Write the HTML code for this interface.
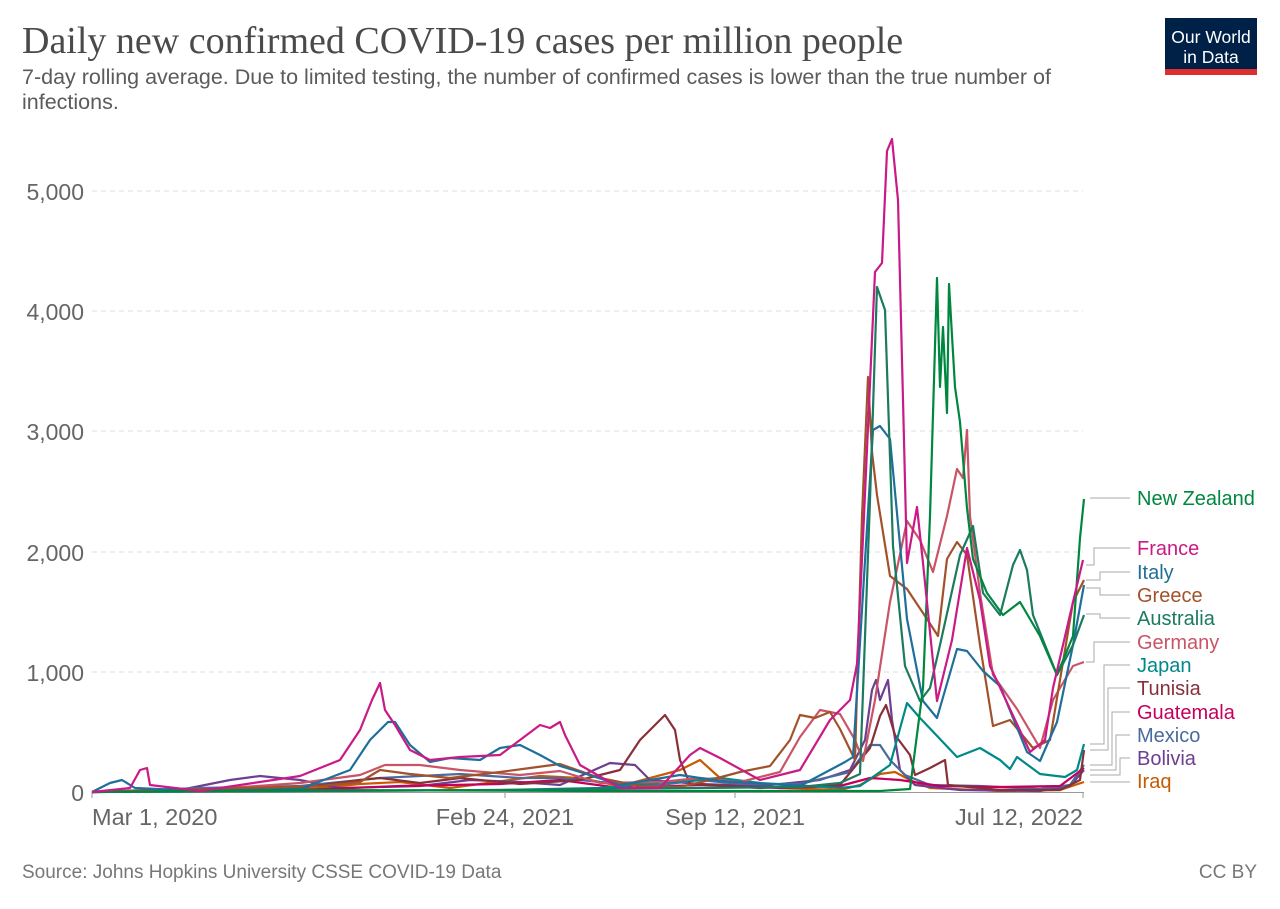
<!DOCTYPE html>
<html><head><meta charset="utf-8"><style>
body{margin:0;background:#fff;width:1280px;height:904px;overflow:hidden;font-family:"Liberation Sans",sans-serif}
</style></head><body>
<svg width="1280" height="904" viewBox="0 0 1280 904" xmlns="http://www.w3.org/2000/svg">
<text x="22" y="53" font-family="Liberation Serif,serif" font-size="38" fill="#4a4a4a">Daily new confirmed COVID-19 cases per million people</text>
<text x="22" y="84" font-size="21.5" fill="#5b5b5b">7-day rolling average. Due to limited testing, the number of confirmed cases is lower than the true number of</text>
<text x="22" y="109" font-size="21.5" fill="#5b5b5b">infections.</text>
<rect x="1165" y="18" width="92" height="57" fill="#002147"/>
<rect x="1165" y="69" width="92" height="6" fill="#dc2f2f"/>
<text x="1211" y="43" font-size="17.5" fill="#fff" text-anchor="middle">Our World</text>
<text x="1211" y="63" font-size="17.5" fill="#fff" text-anchor="middle">in Data</text>
<g stroke="#ddd" stroke-dasharray="5,4" stroke-width="1">
<line x1="92" x2="1083" y1="191" y2="191"/><line x1="92" x2="1083" y1="311" y2="311"/><line x1="92" x2="1083" y1="431" y2="431"/><line x1="92" x2="1083" y1="552" y2="552"/><line x1="92" x2="1083" y1="672" y2="672"/>
</g>
<line x1="92" x2="1084" y1="792.5" y2="792.5" stroke="#999"/>
<g stroke="#999"><line x1="92" x2="92" y1="792" y2="798"/><line x1="505" x2="505" y1="792" y2="798"/><line x1="735" x2="735" y1="792" y2="798"/><line x1="1083" x2="1083" y1="792" y2="798"/></g>
<g font-size="23" fill="#666" text-anchor="end">
<text x="84" y="200">5,000</text><text x="84" y="320">4,000</text><text x="84" y="440">3,000</text><text x="84" y="561">2,000</text><text x="84" y="681">1,000</text><text x="84" y="801">0</text>
</g>
<g font-size="23.5" fill="#666">
<text x="92" y="825">Mar 1, 2020</text><text x="505" y="825" text-anchor="middle">Feb 24, 2021</text><text x="735" y="825" text-anchor="middle">Sep 12, 2021</text><text x="1083" y="825" text-anchor="end">Jul 12, 2022</text>
</g>
<g fill="none" stroke-width="2.2" stroke-linejoin="round">
<polyline stroke="#c85a00" points="92,792 300,790 360,784 400,782 450,788 540,776 580,778 620,786 680,770 700,760 720,778 780,788 840,790 860,785 880,774 895,772 910,780 930,788 1000,791 1060,790 1075,785 1084,782"/>
<polyline stroke="#6d3e91" points="92,792 180,790 230,780 260,776 300,780 340,788 420,786 470,780 520,782 560,785 610,763 635,765 650,780 700,784 760,786 820,780 850,770 865,740 872,690 876,680 880,700 884,690 888,680 892,720 900,770 915,785 960,790 1040,791 1070,786 1084,770"/>
<polyline stroke="#4c6a9c" points="92,792 200,788 300,786 380,778 420,776 460,774 520,778 560,778 600,782 660,785 700,780 740,784 800,784 850,772 870,745 880,745 890,760 905,775 930,785 980,786 1040,789 1070,785 1084,765"/>
<polyline stroke="#c4005e" points="92,792 300,790 400,786 500,784 560,780 620,788 700,785 780,788 840,786 870,778 900,780 940,786 1000,787 1060,786 1084,768"/>
<polyline stroke="#883039" points="92,792 300,788 360,780 380,778 420,783 460,778 520,784 580,780 620,770 640,740 665,715 675,730 680,760 690,784 760,788 840,785 870,748 880,716 886,705 895,735 910,755 915,775 930,768 945,760 948,785 1000,790 1060,790 1080,780 1084,750"/>
<polyline stroke="#00898a" points="92,792 300,791 500,790 600,788 680,781 720,778 760,783 840,788 860,786 890,765 907,703 920,718 940,739 957,757 980,748 1000,760 1010,769 1017,757 1040,774 1065,777 1077,770 1084,744"/>
<polyline stroke="#c95466" points="92,792 200,790 300,783 360,775 385,765 420,765 460,770 520,775 560,771 600,783 660,782 700,778 740,782 780,772 800,737 820,710 840,714 855,740 863,761 875,700 890,602 907,521 920,540 933,572 947,516 957,469 963,478 967,430 970,516 980,593 993,675 1017,709 1040,748 1053,700 1060,688 1073,666 1084,662"/>
<polyline stroke="#a2522b" points="92,792 250,788 320,786 360,782 380,770 410,774 450,778 500,772 530,768 560,764 600,778 640,786 680,787 710,780 740,772 770,766 790,740 800,715 815,718 830,712 840,729 855,760 862,516 868,377 872,452 877,495 890,576 907,589 927,619 938,636 947,559 957,542 967,555 980,645 993,726 1010,720 1033,748 1050,740 1073,602 1084,580"/>
<polyline stroke="#1f6f9a" points="92,792 110,783 122,780 135,788 200,791 300,789 350,770 370,740 388,722 395,722 410,745 430,762 450,758 480,760 500,748 520,745 540,755 560,766 580,772 620,785 680,775 720,781 800,786 830,770 845,762 853,757 873,430 880,426 890,439 907,619 923,701 937,718 957,649 967,651 983,671 1000,686 1027,752 1040,761 1057,722 1073,645 1084,585"/>
<polyline stroke="#1b7a60" points="92,792 300,791 500,790 700,788 800,787 840,783 860,774 870,500 877,287 885,310 893,546 905,666 920,701 930,688 940,645 960,555 973,526 983,593 1000,615 1013,565 1020,550 1027,570 1033,615 1057,675 1073,645 1084,615"/>
<polyline stroke="#00873f" points="92,792 300,790 600,791 840,791 880,791 910,789 923,688 930,516 937,278 940,387 943,327 947,413 949,284 955,387 960,422 967,508 973,559 987,593 1003,615 1020,602 1040,636 1057,675 1073,636 1080,538 1084,499"/>
<polyline stroke="#c91a86" points="92,792 130,788 140,770 147,768 150,785 200,791 300,776 340,760 360,730 372,700 380,683 385,710 395,725 410,750 430,760 460,757 500,755 520,740 540,725 550,728 560,722 565,735 580,765 620,788 660,788 690,755 700,748 720,758 760,780 800,770 830,720 850,700 857,664 863,538 875,272 882,263 887,151 892,139 898,200 903,400 907,563 917,507 923,563 937,701 952,640 967,548 980,600 990,666 1030,752 1045,740 1053,688 1073,602 1083,560"/>
</g>
<g stroke="#aaa" fill="none" stroke-width="1">
<path d="M1090 498H1130"/>
<path d="M1086 565H1094V548H1130"/><path d="M1086 580H1100V572H1130"/><path d="M1086 588H1100V595H1130"/><path d="M1086 614H1100V618H1130"/><path d="M1086 662H1094V642H1130"/>
<path d="M1090 744H1104V665H1130"/><path d="M1090 750H1108V688H1130"/><path d="M1090 765H1112V712H1130"/><path d="M1090 770H1116V735H1130"/><path d="M1090 775H1120V758H1130"/><path d="M1090 782H1130"/>
</g>
<g font-size="20">
<text x="1137" y="505" fill="#00873f">New Zealand</text>
<text x="1137" y="555" fill="#c91a86">France</text>
<text x="1137" y="579" fill="#1f6f9a">Italy</text>
<text x="1137" y="602" fill="#a2522b">Greece</text>
<text x="1137" y="625" fill="#1b7a60">Australia</text>
<text x="1137" y="649" fill="#c95466">Germany</text>
<text x="1137" y="672" fill="#00898a">Japan</text>
<text x="1137" y="695" fill="#883039">Tunisia</text>
<text x="1137" y="719" fill="#c4005e">Guatemala</text>
<text x="1137" y="742" fill="#4c6a9c">Mexico</text>
<text x="1137" y="765" fill="#6d3e91">Bolivia</text>
<text x="1137" y="788" fill="#c85a00">Iraq</text>
</g>
<text x="22" y="878" font-size="19" fill="#777">Source: Johns Hopkins University CSSE COVID-19 Data</text>
<text x="1257" y="878" font-size="19" fill="#777" text-anchor="end">CC BY</text>
</svg>
</body></html>
